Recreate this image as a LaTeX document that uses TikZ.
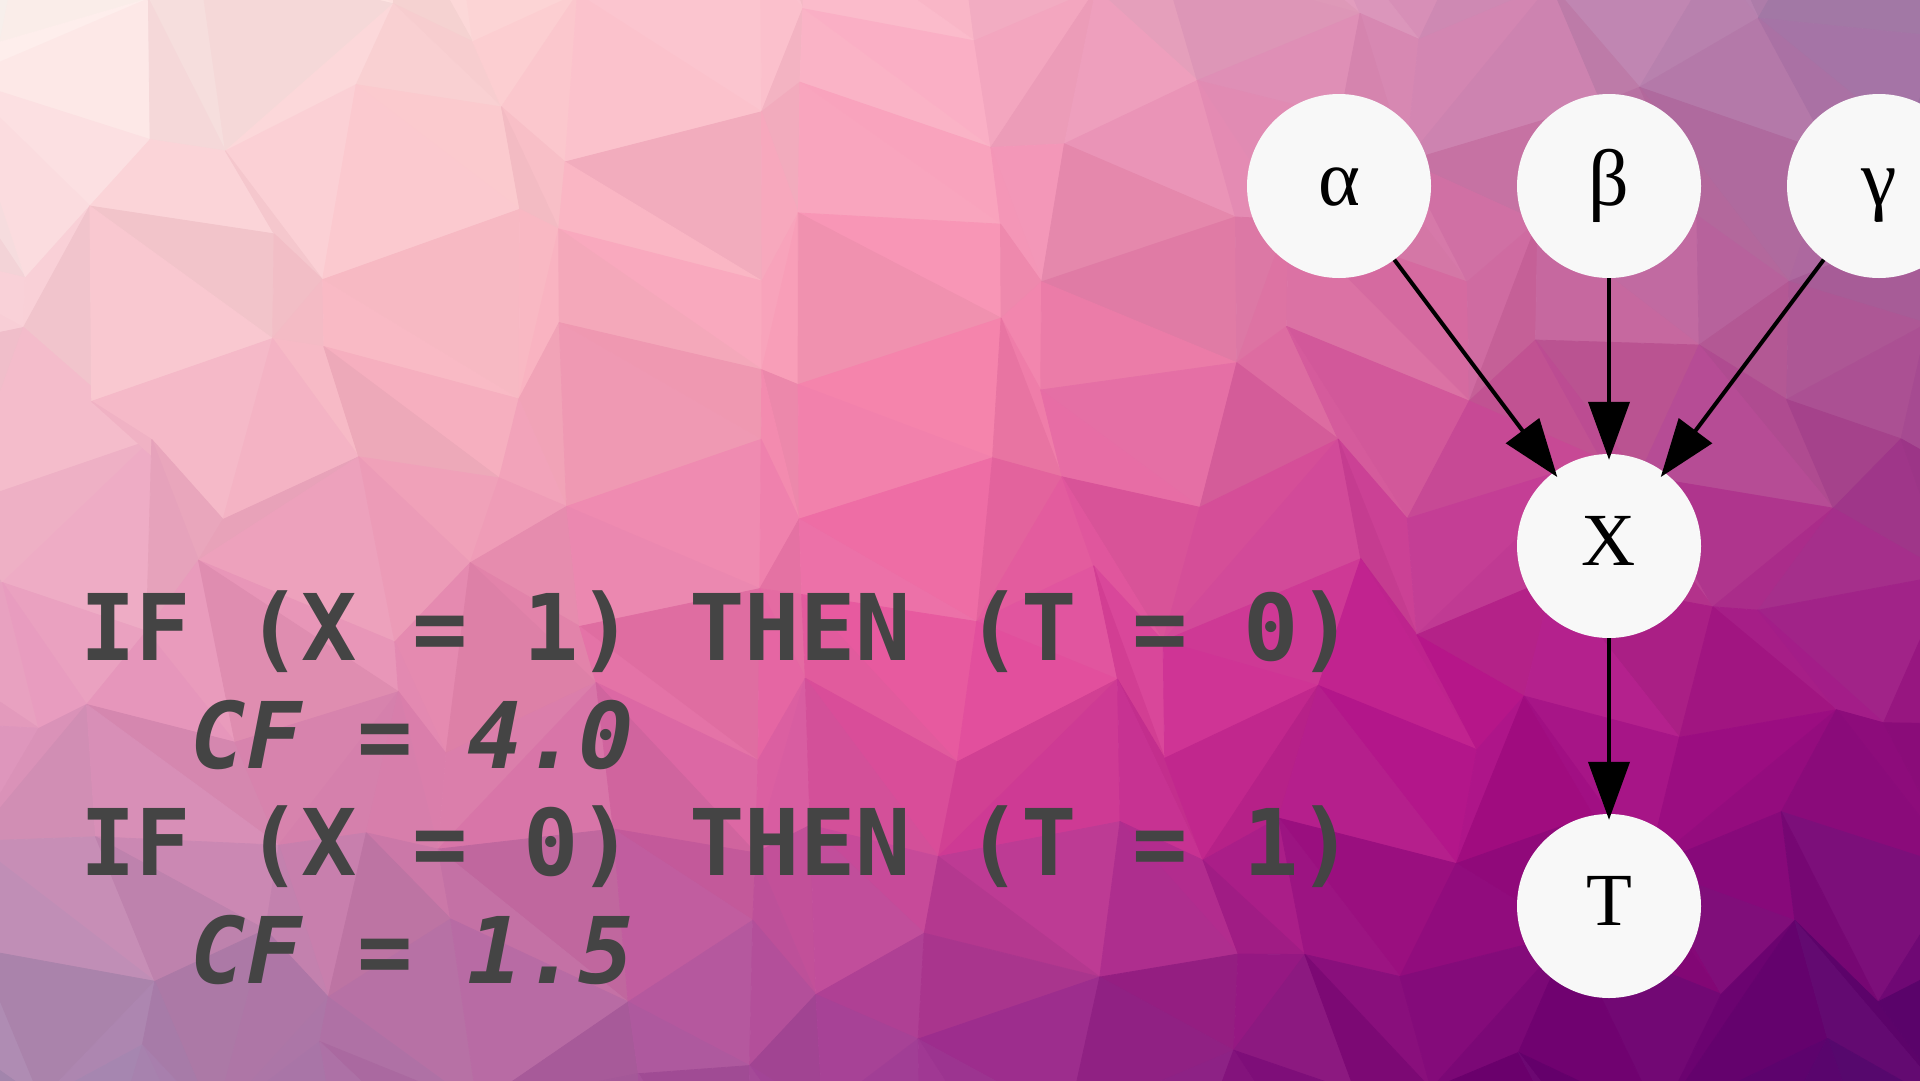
\documentclass[tikz,border=0pt]{standalone}
\usepackage{fontspec}
\setmainfont{Liberation Serif}
\newfontfamily\codebf{DejaVu Sans Mono Bold}
\newfontfamily\codebi{DejaVu Sans Mono Bold Oblique}
\usetikzlibrary{arrows.meta}

% gradient control colours: c<column><row>, columns every 480px, rows every 360px
\definecolor{cAA}{HTML}{FFF6F2}
\definecolor{cBA}{HTML}{FCD4D4}
\definecolor{cCA}{HTML}{FBB4C8}
\definecolor{cDA}{HTML}{D48CB6}
\definecolor{cEA}{HTML}{9E78A8}
\definecolor{cAB}{HTML}{F7C6D0}
\definecolor{cBB}{HTML}{F9B4C0}
\definecolor{cCB}{HTML}{F685AC}
\definecolor{cDB}{HTML}{D2609A}
\definecolor{cEB}{HTML}{A65292}
\definecolor{cAC}{HTML}{E698BE}
\definecolor{cBC}{HTML}{E07EAA}
\definecolor{cCC}{HTML}{E44A9A}
\definecolor{cDC}{HTML}{B8108A}
\definecolor{cEC}{HTML}{980E80}
\definecolor{cAD}{HTML}{A088B0}
\definecolor{cBD}{HTML}{AC66A0}
\definecolor{cCD}{HTML}{9C3290}
\definecolor{cDD}{HTML}{720070}
\definecolor{cED}{HTML}{4E0068}
\definecolor{txtgray}{HTML}{444444}
\definecolor{nodefill}{HTML}{F8F8F8}

\newcommand\lettr[1]{\ifcase\numexpr#1\relax A\or B\or C\or D\or E\fi}

\newcommand\getv[4]{%
  \pgfmathsetmacro#3{(#1)*120+42*sin((#1)*137.5+(#2)*251.3+17*(#1)*(#2))}%
  \pgfmathsetmacro#4{(#2)*120+42*cos((#1)*91.7+(#2)*193.1+13*(#1)*(#2))}%
}

\newcommand\facecol[3]{%
  \pgfmathsetmacro\qx{min(max(#1,0),1919.9)}%
  \pgfmathsetmacro\qy{min(max(#2,0),1079.9)}%
  \pgfmathtruncatemacro\qi{\qx/480}%
  \pgfmathtruncatemacro\qj{\qy/360}%
  \pgfmathtruncatemacro\qu{(\qx-480*\qi)/4.8}%
  \pgfmathtruncatemacro\qv{(\qy-360*\qj)/3.6}%
  \edef\cTL{c\lettr{\qi}\lettr{\qj}}%
  \edef\cTR{c\lettr{\qi+1}\lettr{\qj}}%
  \edef\cBL{c\lettr{\qi}\lettr{\qj+1}}%
  \edef\cBR{c\lettr{\qi+1}\lettr{\qj+1}}%
  \colorlet{rowT}{\cTR!\qu!\cTL}%
  \colorlet{rowB}{\cBR!\qu!\cBL}%
  \colorlet{fcbase}{rowB!\qv!rowT}%
  \pgfmathtruncatemacro\vv{4*sin(#3)}%
  \ifnum\vv<0
    \colorlet{fc}{fcbase!\the\numexpr100+\vv\relax!black}%
  \else
    \colorlet{fc}{fcbase!\the\numexpr100-\vv\relax!white}%
  \fi
}

\tikzset{
  facet/.style={fill=fc, draw=fc, line width=0.8pt, line join=round},
  bnode/.style={circle, fill=nodefill, minimum size=184pt, inner sep=0pt,
                text height=38pt, text depth=0pt},
  latin/.style={font=\fontsize{75}{75}\selectfont},
  greek/.style={font=\fontsize{80}{80}\selectfont},
  conn/.style={line width=4pt, -{Triangle[length=58pt,width=41pt]}, shorten >=-6pt},
  code/.style={text=txtgray, anchor=base west, inner sep=0pt},
}

\begin{document}
\begin{tikzpicture}[x=1pt,y=-1pt]
\useasboundingbox (0,0) rectangle (1920,1080);

% low-poly background
\begin{scope}
\clip (0,0) rectangle (1920,1080);
\foreach \i in {-1,...,16}{
  \foreach \j in {-1,...,9}{
    \getv{\i}{\j}{\pAx}{\pAy}
    \getv{\i+1}{\j}{\pBx}{\pBy}
    \getv{\i+1}{\j+1}{\pCx}{\pCy}
    \getv{\i}{\j+1}{\pDx}{\pDy}
    \pgfmathtruncatemacro\diag{mod(abs(\i+\j+\i*\j)+3,2)}
    \ifnum\diag=0
      \facecol{(\pAx+\pBx+\pCx)/3}{(\pAy+\pBy+\pCy)/3}{\i*311.3+\j*173.9}
      \fill[facet] (\pAx,\pAy)--(\pBx,\pBy)--(\pCx,\pCy)--cycle;
      \facecol{(\pAx+\pCx+\pDx)/3}{(\pAy+\pCy+\pDy)/3}{\i*211.7+\j*97.3+55}
      \fill[facet] (\pAx,\pAy)--(\pCx,\pCy)--(\pDx,\pDy)--cycle;
    \else
      \facecol{(\pAx+\pBx+\pDx)/3}{(\pAy+\pBy+\pDy)/3}{\i*311.3+\j*173.9}
      \fill[facet] (\pAx,\pAy)--(\pBx,\pBy)--(\pDx,\pDy)--cycle;
      \facecol{(\pBx+\pCx+\pDx)/3}{(\pBy+\pCy+\pDy)/3}{\i*211.7+\j*97.3+55}
      \fill[facet] (\pBx,\pBy)--(\pCx,\pCy)--(\pDx,\pDy)--cycle;
    \fi
  }
}
\end{scope}

% code text
\node[code, font=\codebf\fontsize{92}{108}\selectfont] (l1) at (80,660) {IF (X = 1) THEN (T = 0)};
\node[code, font=\codebi\fontsize{92}{108}\selectfont] (l2) at (80,768) {\phantom{XX}CF = 4.0};
\node[code, font=\codebf\fontsize{92}{108}\selectfont] (l3) at (80,875) {IF (X = 0) THEN (T = 1)};
\node[code, font=\codebi\fontsize{92}{108}\selectfont] (l4) at (80,983) {\phantom{XX}CF = 1.5};

% graph
\node[bnode, greek] (a) at (1339,186) {α};
\node[bnode, greek] (b) at (1609,186) {β};
\node[bnode, greek] (g) at (1879,186) {γ};
\node[bnode, latin] (x) at (1609,546) {X};
\node[bnode, latin] (t) at (1609,906) {T};

\draw[conn] (a) -- (x);
\draw[conn] (b) -- (x);
\draw[conn] (g) -- (x);
\draw[conn] (x) -- (t);
\end{tikzpicture}
\end{document}
